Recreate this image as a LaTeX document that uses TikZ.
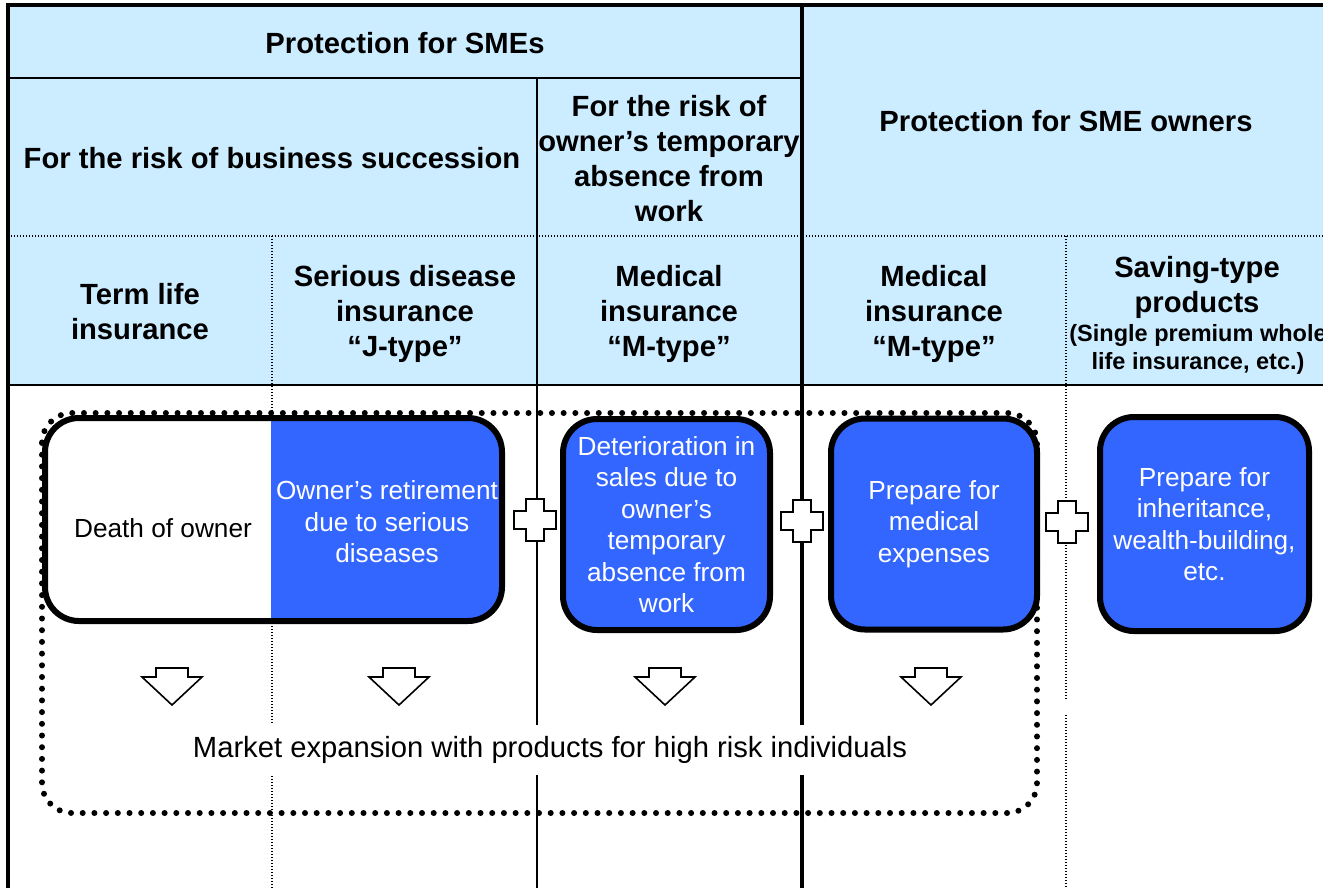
\documentclass[tikz,border=0pt]{standalone}
\usepackage{fontspec}
\setmainfont{Liberation Sans}
\usepackage{tikz}
\usetikzlibrary{positioning}
\definecolor{headbg}{HTML}{CCECFF}
\definecolor{riskc}{HTML}{3366FF}
\tikzset{
  hd/.style={font=\fontsize{29.2}{35}\selectfont\bfseries,align=center,inner sep=0pt},
  note/.style={font=\fontsize{23.5}{28}\selectfont\bfseries,align=center,inner sep=0pt},
  btxt/.style={font=\fontsize{26.2}{31.5}\selectfont,align=center,inner sep=0pt,text=white},
  riskbox/.style={btxt,draw=black,line width=6pt,rounded corners=34pt,fill=riskc},
  thinln/.style={line width=1.5pt},
  frameln/.style={line width=4.5pt},
  dotln/.style={line width=1.2pt,dash pattern=on 1.2pt off 1.8pt},
  bigdots/.style={line width=6pt,line cap=round,dash pattern=on 0pt off 11.7pt},
  outl/.style={draw=black,fill=white,line width=1.6pt,line join=miter}
}
\begin{document}
\begin{tikzpicture}[x=1pt,y=-1pt]
\clip (0,0) rectangle (1323,887);
% table head
\fill[headbg] (8,5) rectangle (1330,385);
\draw[thinln] (8,78) -- (802,78);
\draw[dotln] (8,236) -- (1330,236);
\draw[thinln] (8,385) -- (1330,385);
\draw[thinln] (537,78) -- (537,890);
\draw[dotln] (272,236) -- (272,890);
\draw[dotln] (1066,236) -- (1066,700) (1066,715) -- (1066,890);
\draw[frameln] (8,890) -- (8,5) -- (1330,5);
\draw[frameln] (802,5) -- (802,890);
\node[hd] (smes) at (405,43) {Protection for SMEs};
\node[hd] (succ) at (272,158) {For the risk of business succession};
\node[hd] (absent) at (669,159) {For the risk of\\owner’s temporary\\absence from\\work};
\node[hd] (owners) at (1066,121) {Protection for SME owners};
\node[hd] (term) at (140,312) {Term life\\insurance};
\node[hd] (jtype) at (405,314) {Serious disease\\insurance\\“J-type”};
\node[hd] (mtypea) at (669,314) {Medical\\insurance\\“M-type”};
\node[hd] (mtypeb) at (934,314) {Medical\\insurance\\“M-type”};
\node[hd] (saving) at (1197,287) {Saving-type\\products};
\node[note] (whole) at (1198,349) {(Single premium whole\\life insurance, etc.)};
% market expansion frame
\draw[bigdots,rounded corners=30pt] (42,413) rectangle (1037,813);
% risks
\node[riskbox,fill=white,minimum width=457pt,minimum height=203pt,
  path picture={\fill[riskc,sharp corners] ([xshift=-2.5pt]path picture bounding box.north)
    rectangle (path picture bounding box.south east);}]
  (succbox) at (273.5,519.5) {};
\node[btxt,text=black] (death) at (163,528) {Death of owner};
\node[btxt] (retire) at (387,522) {Owner’s retirement\\due to serious\\diseases};
\node[riskbox,minimum width=207pt,minimum height=211pt] (sales) at (666.5,524.5)
  {Deterioration in\\sales due to\\owner’s\\temporary\\absence from\\work};
\node[riskbox,minimum width=206pt,minimum height=211pt] (medical) at (934,524)
  {Prepare for\\medical\\expenses};
\node[riskbox,minimum width=209pt,minimum height=214pt] (inherit) at (1204.5,524)
  {Prepare for\\inheritance,\\wealth-building,\\etc.};
\foreach \px/\py in {535/520,802/521,1067/522}
  \draw[outl] (\px-9,\py-21) -- ++(18,0) -- ++(0,12) -- ++(12,0) -- ++(0,18) -- ++(-12,0)
    -- ++(0,12) -- ++(-18,0) -- ++(0,-12) -- ++(-12,0) -- ++(0,-18) -- ++(12,0) -- cycle;
\foreach \ax in {172,399,665,931}
  \draw[outl] (\ax-16,668) -- ++(32,0) -- ++(0,9) -- ++(14,0) -- (\ax,705) -- (\ax-30,677) -- ++(14,0) -- cycle;
\node[btxt,text=black,fill=white,inner xsep=4pt,inner ysep=11.5pt,font=\fontsize{29.2}{35}\selectfont]
  (market) at (550,750) {Market expansion with products for high risk individuals};
\end{tikzpicture}
\end{document}
